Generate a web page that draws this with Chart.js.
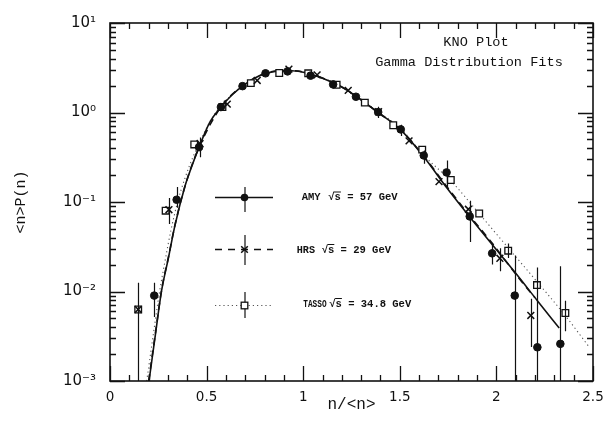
<!DOCTYPE html>
<html><head><meta charset="utf-8">
<script src="https://cdn.jsdelivr.net/npm/chart.js@4.4.1/dist/chart.umd.min.js"></script>
<style>html,body{margin:0;padding:0;background:#fff;}canvas{display:block;}</style>
</head><body>
<canvas id="c" width="613" height="421"></canvas>
<script>
// ---------- data ----------
const xTickValues = [0, 0.5, 1, 1.5, 2, 2.5];
const xTickLabels = ['0', '0.5', '1', '1.5', '2', '2.5'];
const yTickValues = [0.001, 0.01, 0.1, 1, 10];
const yTickLabels = ['10\u207B\u00B3', '10\u207B\u00B2', '10\u207B\u00B9', '10\u2070', '10\u00B9'];
const xAxisTitle = 'n/<n>';
const yAxisTitle = '<n>P(n)';
const titleLines = ['KNO Plot', 'Gamma Distribution Fits'];
const seriesNames = ['AMY', 'HRS', 'TASSO'];
const seriesEnergies = ['57 GeV', '29 GeV', '34.8 GeV'];

// AMY (filled circles)
const amyX = [0.229, 0.345, 0.461, 0.574, 0.686, 0.805, 0.919, 1.038, 1.155, 1.273, 1.388, 1.505, 1.624, 1.742, 1.862, 1.978, 2.095, 2.212, 2.331];
const amyY = [0.0090, 0.106, 0.41, 1.15, 1.97, 2.74, 2.88, 2.58, 2.06, 1.50, 1.01, 0.647, 0.331, 0.214, 0.069, 0.0267, 0.0090, 0.00238, 0.0026];
const amyErrLo = [0.0052, 0.0865, null, null, null, null, null, null, null, null, 0.87, 0.547, 0.268, 0.146, 0.0357, 0.020, 0.0001, 0.0001, 0.0001];
const amyErrHi = [0.0125, 0.147, null, null, null, null, null, null, null, null, 1.16, 0.73, 0.375, 0.29, 0.103, 0.0344, 0.0252, 0.0185, 0.0191];

// HRS (crosses)
const hrsX = [0.146, 0.305, 0.466, 0.607, 0.762, 0.926, 1.072, 1.233, 1.390, 1.548, 1.703, 1.855, 2.018, 2.178];
const hrsY = [0.0063, 0.082, 0.45, 1.24, 2.28, 3.05, 2.63, 1.77, 1.02, 0.482, 0.169, 0.083, 0.0235, 0.0054];
const hrsErrLo = [0.0040, 0.0566, 0.317, null, null, null, null, null, null, null, null, null, 0.0168, 0.0024];
const hrsErrHi = [0.0093, 0.111, 0.525, null, null, null, null, null, null, null, null, null, 0.0304, 0.0083];

// TASSO (open squares)
const tassoX = [0.146, 0.288, 0.436, 0.582, 0.729, 0.876, 1.026, 1.173, 1.319, 1.466, 1.616, 1.764, 1.911, 2.061, 2.210, 2.357];
const tassoY = [0.0063, 0.080, 0.44, 1.15, 2.13, 2.76, 2.74, 2.04, 1.29, 0.721, 0.385, 0.176, 0.0743, 0.0286, 0.0118, 0.00575];
const tassoErrLo = [0.0001, null, null, null, null, null, null, null, null, null, null, null, null, 0.0236, null, 0.0036];
const tassoErrHi = [0.0125, null, null, null, null, null, null, null, null, null, null, null, null, 0.0344, null, 0.0079];

// Gamma distribution fit curves
const fitAmyX = [0.202, 0.235, 0.267, 0.302, 0.336, 0.388, 0.414, 0.457, 0.517, 0.574, 0.63, 0.686, 0.745, 0.805, 0.879, 0.94, 1.0, 1.038, 1.103, 1.2, 1.273, 1.388, 1.505, 1.624, 1.742, 1.862, 1.98, 2.095, 2.212, 2.325];
const fitAmyY = [0.001, 0.0033, 0.0102, 0.0235, 0.0545, 0.15, 0.22, 0.39, 0.78, 1.15, 1.56, 1.97, 2.4, 2.72, 2.92, 2.93, 2.82, 2.68, 2.4, 1.92, 1.52, 1.0, 0.64, 0.32, 0.145, 0.068, 0.033, 0.0165, 0.0079, 0.0039];
const fitHrsX = [0.200, 0.235, 0.267, 0.302, 0.336, 0.388, 0.457, 0.574, 0.686, 0.805, 0.90, 1.0, 1.103, 1.2, 1.388, 1.505, 1.624, 1.742, 1.862, 1.966, 2.121, 2.200];
const fitHrsY = [0.001, 0.0034, 0.0104, 0.024, 0.055, 0.15, 0.39, 1.15, 1.98, 2.74, 2.95, 2.84, 2.41, 1.93, 1.0, 0.64, 0.325, 0.15, 0.07, 0.0374, 0.0137, 0.0085];
const fitTassoX = [0.19, 0.225, 0.255, 0.285, 0.315, 0.35, 0.39, 0.43, 0.48, 0.53, 0.574, 0.686, 0.805, 0.9, 1.0, 1.103, 1.2, 1.388, 1.505, 1.62, 1.776, 1.9, 2.035, 2.207, 2.35, 2.48];
const fitTassoY = [0.001, 0.0034, 0.0095, 0.022, 0.048, 0.10, 0.19, 0.32, 0.55, 0.88, 1.18, 1.99, 2.74, 2.93, 2.84, 2.42, 1.95, 1.02, 0.66, 0.34, 0.162, 0.079, 0.0358, 0.0131, 0.0056, 0.0024];

// ---------- helpers ----------
const pts = (xs, ys) => xs.map((x, i) => ({x: x, y: ys[i]}));
const INK = '#111';

const errorBars = {
  id: 'errorBars',
  afterDatasetsDraw(chart) {
    const {ctx, chartArea: a, scales: {x, y}} = chart;
    const sets = [[amyX, amyErrLo, amyErrHi], [hrsX, hrsErrLo, hrsErrHi], [tassoX, tassoErrLo, tassoErrHi]];
    ctx.save();
    ctx.beginPath();
    ctx.rect(a.left, a.top, a.right - a.left, a.bottom - a.top);
    ctx.clip();
    ctx.strokeStyle = INK;
    ctx.lineWidth = 1.2;
    ctx.beginPath();
    sets.forEach(([xs, lo, hi]) => {
      xs.forEach((xv, i) => {
        if (lo[i] == null || hi[i] == null) return;
        const px = Math.round(x.getPixelForValue(xv)) + 0.5;
        const yl = Math.min(y.getPixelForValue(lo[i]), a.bottom + 2);
        ctx.moveTo(px, yl);
        ctx.lineTo(px, y.getPixelForValue(hi[i]));
      });
    });
    ctx.stroke();
    ctx.restore();
  }
};

const frame = {
  id: 'frame',
  afterDraw(chart) {
    const {ctx, chartArea: a, scales: {x, y}} = chart;
    ctx.save();
    ctx.strokeStyle = INK;
    ctx.lineWidth = 1.6;
    ctx.strokeRect(a.left, a.top, a.right - a.left, a.bottom - a.top);
    ctx.lineWidth = 1.3;
    ctx.beginPath();
    for (let i = 0; i <= 25; i++) {
      const px = Math.round(x.getPixelForValue(i / 10)) + 0.5;
      const L = (i % 5 === 0) ? 15 : 6;
      ctx.moveTo(px, a.bottom); ctx.lineTo(px, a.bottom - L);
      ctx.moveTo(px, a.top); ctx.lineTo(px, a.top + L);
    }
    for (let d = -3; d <= 1; d++) {
      for (let m = 1; m <= 9; m++) {
        if (d === 1 && m > 1) break;
        const py = Math.round(y.getPixelForValue(m * Math.pow(10, d))) + 0.5;
        const L = (m === 1) ? 15 : 6;
        ctx.moveTo(a.left, py); ctx.lineTo(a.left + L, py);
        ctx.moveTo(a.right, py); ctx.lineTo(a.right - L, py);
      }
    }
    ctx.stroke();

    // title text inside the plot
    ctx.fillStyle = INK;
    ctx.font = '13.6px "Liberation Mono"';
    ctx.textAlign = 'center';
    ctx.textBaseline = 'middle';
    ctx.fillText(titleLines[0], 476, 42);
    ctx.fillText(titleLines[1], 469, 62);

    // legend
    const rows = [197.5, 249.5, 305.5];
    const textRows = [197.5, 250, 304];
    const lx0 = 215, lx1 = 273, mx = 244.5;
    const bars = [[187, 212], [235, 265], [292, 318]];
    const nameX = [301.7, 296.7, 303.3];
    const nameW = [20, 18.3, 23.3];
    const energyX = [328.3, 321.7, 329.3];
    rows.forEach((ry, k) => {
      ctx.save();
      ctx.strokeStyle = k === 2 ? '#555' : INK;
      ctx.lineWidth = k === 2 ? 1.1 : 1.4;
      ctx.setLineDash(k === 0 ? [] : (k === 1 ? [7, 6] : [1.2, 3]));
      ctx.beginPath(); ctx.moveTo(lx0, ry); ctx.lineTo(lx1, ry); ctx.stroke();
      ctx.setLineDash([]);
      ctx.strokeStyle = INK; ctx.lineWidth = 1.2;
      ctx.beginPath(); ctx.moveTo(mx + 0.5, bars[k][0]); ctx.lineTo(mx + 0.5, bars[k][1]); ctx.stroke();
      if (k === 0) {
        ctx.fillStyle = INK; ctx.beginPath(); ctx.arc(mx, ry, 3.8, 0, Math.PI * 2); ctx.fill();
      } else if (k === 1) {
        ctx.lineWidth = 1.5; ctx.beginPath();
        ctx.moveTo(mx - 3.3, ry - 3.3); ctx.lineTo(mx + 3.3, ry + 3.3);
        ctx.moveTo(mx + 3.3, ry - 3.3); ctx.lineTo(mx - 3.3, ry + 3.3); ctx.stroke();
      } else {
        ctx.fillStyle = '#fff'; ctx.fillRect(mx - 3.3, ry - 3.3, 6.6, 6.6);
        ctx.lineWidth = 1.3; ctx.strokeRect(mx - 3.3, ry - 3.3, 6.6, 6.6);
      }
      const ty = textRows[k];
      ctx.fillStyle = INK;
      ctx.font = 'bold 10.5px "Liberation Mono"';
      ctx.textAlign = 'left'; ctx.textBaseline = 'middle';
      ctx.fillText(seriesNames[k], nameX[k], ty, nameW[k]);
      const rad = '\u221As';
      const full = rad + ' = ' + seriesEnergies[k];
      ctx.fillText(full, energyX[k], ty);
      const w1 = ctx.measureText('\u221A').width, w2 = ctx.measureText(rad).width;
      ctx.lineWidth = 1; ctx.beginPath();
      ctx.moveTo(energyX[k] + w1 - 0.5, ty - 5.5); ctx.lineTo(energyX[k] + w2, ty - 5.5); ctx.stroke();
      ctx.restore();
    });
    ctx.restore();
  }
};

new Chart(document.getElementById('c').getContext('2d'), {
  type: 'scatter',
  data: {
    datasets: [
      {label: seriesNames[0], data: pts(amyX, amyY), pointStyle: 'circle', pointRadius: 3.8,
       backgroundColor: INK, borderColor: INK, borderWidth: 1, order: 1},
      {label: seriesNames[1], data: pts(hrsX, hrsY), pointStyle: 'crossRot', pointRadius: 4.8,
       borderColor: INK, borderWidth: 1.5, order: 2},
      {label: seriesNames[2], data: pts(tassoX, tassoY), pointStyle: 'rect', pointRadius: 4.7,
       backgroundColor: '#fff', borderColor: INK, borderWidth: 1.3, order: 3},
      {label: 'AMY fit', data: pts(fitAmyX, fitAmyY), showLine: true, pointRadius: 0,
       borderColor: INK, borderWidth: 1.6, cubicInterpolationMode: 'monotone', order: 5},
      {label: 'HRS fit', data: pts(fitHrsX, fitHrsY), showLine: true, pointRadius: 0,
       borderColor: INK, borderWidth: 1.6, borderDash: [7, 5], cubicInterpolationMode: 'monotone', order: 4},
      {label: 'TASSO fit', data: pts(fitTassoX, fitTassoY), showLine: true, pointRadius: 0,
       borderColor: '#555', borderWidth: 1.1, borderDash: [1.2, 3], cubicInterpolationMode: 'monotone', order: 6}
    ]
  },
  options: {
    responsive: false, animation: false, devicePixelRatio: 1,
    layout: {padding: {left: 0, right: 20, top: 16, bottom: 0}},
    plugins: {legend: {display: false}, tooltip: {enabled: false}},
    scales: {
      x: {
        type: 'linear', min: 0, max: 2.5,
        afterFit(s) { s.height = 40; },
        afterBuildTicks(s) { s.ticks = xTickValues.map(v => ({value: v})); },
        grid: {display: false, drawTicks: false}, border: {display: false},
        ticks: {padding: 8, color: INK, font: {family: 'DejaVu Sans', size: 13.5},
                maxRotation: 0, autoSkip: false, callback: (v, i) => xTickLabels[i]},
        title: {display: true, text: xAxisTitle, color: INK,
                font: {family: 'Liberation Mono', size: 16}, padding: {top: 0, bottom: 7}}
      },
      y: {
        type: 'logarithmic', min: 0.001, max: 10,
        afterFit(s) { s.width = 110; },
        afterBuildTicks(s) { s.ticks = yTickValues.map(v => ({value: v})); },
        grid: {display: false, drawTicks: false}, border: {display: false},
        ticks: {padding: 14, color: INK, font: {family: 'DejaVu Sans', size: 15},
                autoSkip: false, callback: (v, i) => yTickLabels[i]},
        title: {display: true, text: yAxisTitle, color: INK,
                font: {family: 'Liberation Mono', size: 15}, padding: {top: 12, bottom: 0}}
      }
    }
  },
  plugins: [errorBars, frame]
});
</script>
</body></html>
